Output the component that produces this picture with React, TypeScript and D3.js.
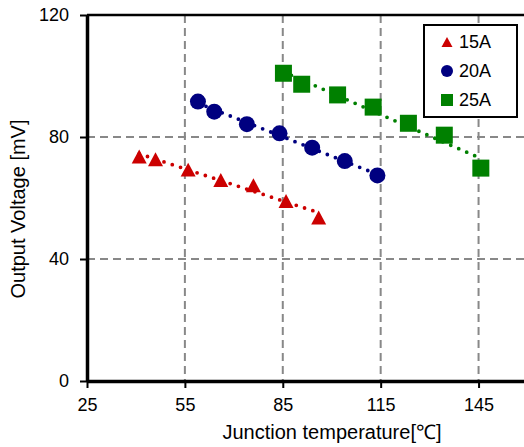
import { useEffect, useRef } from "react"
import * as d3 from "d3"

const temps15 = [41, 46, 56, 66, 76, 86, 96]
const volts15 = [73.6, 72.7, 69.3, 65.9, 64.2, 59.0, 53.6]
const temps20 = [59, 64, 74, 84, 94, 104, 114]
const volts20 = [91.6, 88.3, 84.2, 81.2, 76.5, 72.1, 67.4]
const temps25 = [85.2, 90.8, 101.8, 112.7, 123.5, 134.5, 145.7]
const volts25 = [100.9, 97.3, 93.8, 89.8, 84.5, 80.6, 69.8]
const xTicks = [25, 55, 85, 115, 145]
const yTicks = [0, 40, 80, 120]
const seriesNames = ["15A", "20A", "25A"]

const W = 524
const H = 447
const left = 87
const top = 15
const bottom = 381
const FONT = "'Liberation Sans', Arial, sans-serif"

const colors = ["#cc0000", "#000080", "#008000"]

function fit(xs: number[], ys: number[]) {
  const mx = d3.mean(xs)!
  const my = d3.mean(ys)!
  let sxy = 0, sxx = 0
  xs.forEach((x, i) => {
    sxy += (x - mx) * (ys[i] - my)
    sxx += (x - mx) * (x - mx)
  })
  const b = sxy / sxx
  const a = my - b * mx
  const x0 = d3.min(xs)!, x1 = d3.max(xs)!
  return [[x0, a + b * x0], [x1, a + b * x1]] as [number, number][]
}

function Marker({ kind, x, y, s, color }: { kind: number; x: number; y: number; s: number; color: string }) {
  if (kind === 0) {
    const h = s * 0.93
    return <path d={`M${x},${y - h / 2}L${x + s / 2},${y + h / 2}L${x - s / 2},${y + h / 2}Z`} fill={color} />
  }
  if (kind === 1) return <circle cx={x} cy={y} r={s / 2} fill={color} />
  return <rect x={x - s / 2} y={y - s / 2} width={s} height={s} fill={color} />
}

export default function App() {
  const xRef = useRef<SVGGElement>(null)
  const yRef = useRef<SVGGElement>(null)

  const x = d3.scaleLinear().domain([25, 166]).range([left, left + 141 * 3.263])
  const y = d3.scaleLinear().domain([0, 120]).range([bottom, top])

  const series = [
    { t: temps15, v: volts15 },
    { t: temps20, v: volts20 },
    { t: temps25, v: volts25 },
  ]

  useEffect(() => {
    const gx = d3.select(xRef.current!)
    gx.call(d3.axisBottom(x).tickValues(xTicks).tickSize(7).tickSizeOuter(0).tickPadding(10))
    gx.select(".domain").attr("stroke", "#000").attr("stroke-width", 3.5)
    gx.selectAll(".tick line").attr("stroke", "#000").attr("stroke-width", 2)
    gx.selectAll(".tick text").attr("font-size", 18).attr("font-family", FONT).attr("fill", "#000")

    const gy = d3.select(yRef.current!)
    gy.call(d3.axisLeft(y).tickValues(yTicks).tickSize(7).tickSizeOuter(0).tickPadding(11))
    gy.select(".domain").attr("stroke", "#000").attr("stroke-width", 3.5)
    gy.selectAll(".tick line").attr("stroke", "#000").attr("stroke-width", 2)
    gy.selectAll(".tick text").attr("font-size", 18).attr("font-family", FONT).attr("fill", "#000")
  }, [])

  const line = d3.line<[number, number]>().x(d => x(d[0])).y(d => y(d[1]))

  return (
    <svg width={W} height={H} style={{ position: "absolute", left: 0, top: 0, background: "#fff" }}>
      {/* grid */}
      {xTicks.slice(1).map(t => (
        <line key={`gx${t}`} x1={x(t)} x2={x(t)} y1={top} y2={bottom} stroke="#888" strokeWidth={2} strokeDasharray="8,5" />
      ))}
      {yTicks.slice(1, -1).map(t => (
        <line key={`gy${t}`} x1={left} x2={W} y1={y(t)} y2={y(t)} stroke="#888" strokeWidth={2} strokeDasharray="8,5" />
      ))}
      <line x1={left} x2={W} y1={top} y2={top} stroke="#000" strokeWidth={2.5} />

      {/* trend lines */}
      {series.map((s, i) => (
        <path key={`tr${i}`} d={line(fit(s.t, s.v))!} fill="none" stroke={colors[i]} strokeWidth={3.8}
          strokeLinecap="round" strokeDasharray="0,8.7" />
      ))}

      {/* markers */}
      {series.map((s, i) =>
        s.t.map((t, j) => (
          <Marker key={`m${i}-${j}`} kind={i} x={x(t)} y={y(s.v[j])} s={i === 0 ? 15 : i === 1 ? 16 : 17} color={colors[i]} />
        ))
      )}

      <g ref={xRef} transform={`translate(0,${bottom})`} />
      <g ref={yRef} transform={`translate(${left},0)`} />

      {/* legend */}
      <rect x={424} y={25} width={93} height={92} fill="#fff" stroke="#000" strokeWidth={2} />
      {seriesNames.map((n, i) => (
        <g key={n}>
          <Marker kind={i} x={447} y={42 + i * 29} s={i === 0 ? 11 : 12} color={colors[i]} />
          <text x={459} y={42 + i * 29} dy="0.36em" fontSize={18} fontFamily={FONT} fill="#000">{n}</text>
        </g>
      ))}

      <text x={332} y={439} textAnchor="middle" fontSize={20} fontFamily={FONT} fill="#000">Junction temperature[℃]</text>
      <text transform={`translate(25,209) rotate(-90)`} textAnchor="middle" fontSize={20}
        fontFamily={FONT} fill="#000">Output Voltage [mV]</text>
    </svg>
  )
}
